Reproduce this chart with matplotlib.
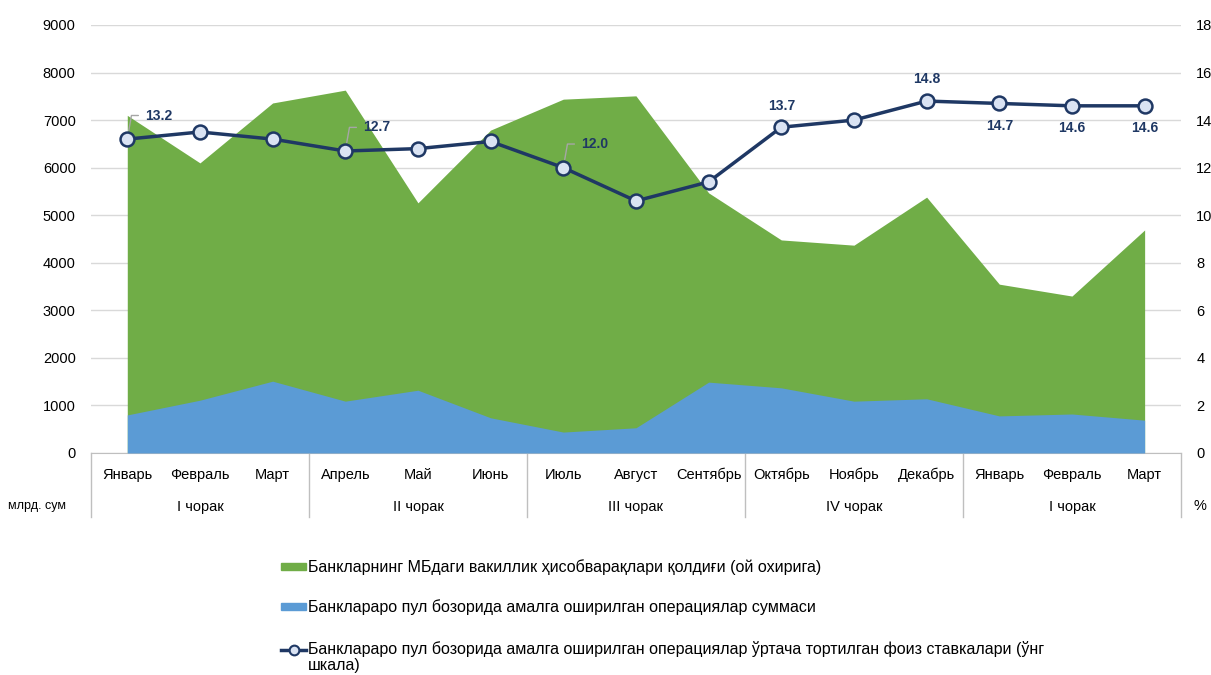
#!/usr/bin/env python3
# Interbank market: correspondent balances, operations volume and average rate

from matplotlib import pyplot as plt
from matplotlib import transforms
from matplotlib.patches import Rectangle
from matplotlib.lines import Line2D

################
#   DATA       #
################
months = ["Январь", "Февраль", "Март", "Апрель", "Май", "Июнь", "Июль", "Август",
          "Сентябрь", "Октябрь", "Ноябрь", "Декабрь", "Январь", "Февраль", "Март"]
quarters = ["I чорак", "II чорак", "III чорак", "IV чорак", "I чорак"]

balances = [7100, 6100, 7360, 7630, 5260, 6790, 7440, 7510, 5470,
            4480, 4370, 5380, 3550, 3300, 4690]
operations = [800, 1110, 1510, 1090, 1320, 740, 440, 530, 1490,
              1370, 1090, 1140, 780, 820, 690]
rates = [13.2, 13.5, 13.2, 12.7, 12.8, 13.1, 12.0, 10.6, 11.4,
         13.7, 14.0, 14.8, 14.7, 14.6, 14.6]

legend_labels = ["Банкларнинг МБдаги вакиллик ҳисобварақлари қолдиғи (ой охирига)",
                 "Банклараро пул бозорида амалга оширилган операциялар суммаси",
                 "Банклараро пул бозорида амалга оширилган операциялар ўртача тортилган фоиз ставкалари (ўнг\nшкала)"]

# which points get a label, and where it sits (offset in points, leader line or not)
label_spots = {0: (13, 17, True), 3: (13, 17, True), 6: (13, 17, True),
               9: (0, 15, False), 11: (0, 16, False),
               12: (0, -16, False), 13: (0, -16, False), 14: (0, -16, False)}

GREEN = "#70AD47"
BLUE = "#5B9BD5"
NAVY = "#1F3864"
GRID = "#D9D9D9"

plt.rcParams["font.family"] = ["Liberation Sans Narrow", "Liberation Sans", "DejaVu Sans"]

fig = plt.figure(figsize=(12.11, 6.75), dpi=100)
ax = fig.add_axes([0.0751, 0.3289, 0.9001, 0.6341])
ax2 = ax.twinx()

x = list(range(len(months)))

# areas (not stacked, operations drawn in front)
ax.fill_between(x, 0, balances, color=GREEN, linewidth=0, zorder=2)
ax.fill_between(x, 0, operations, color=BLUE, linewidth=0, zorder=3)

ax.set_xlim(-0.5, len(months) - 0.5)
ax.set_ylim(0, 9000)
ax.set_yticks(range(0, 9001, 1000))
ax.yaxis.grid(True, color=GRID, linewidth=1)
ax.set_axisbelow(True)
ax.set_xticks([])
ax.tick_params(axis="y", length=0, labelsize=10.5, pad=11)

ax2.set_ylim(0, 18)
ax2.set_yticks(range(0, 19, 2))
ax2.tick_params(axis="y", length=0, labelsize=10.5, pad=11)

for a in (ax, ax2):
    for side in ("top", "left", "right"):
        a.spines[side].set_visible(False)
    a.spines["bottom"].set_color("#BFBFBF")
ax2.spines["bottom"].set_visible(False)

# rate line on right scale
ax2.plot(x, rates, color=NAVY, linewidth=2.5, marker="o", markersize=10,
         markerfacecolor="#DAE3F3", markeredgecolor=NAVY, markeredgewidth=1.8, zorder=5)

for i, (dx, dy, leader) in label_spots.items():
    if leader:
        ax2.annotate("{:.1f}".format(rates[i]), xy=(i, rates[i]), xytext=(dx, dy),
                     textcoords="offset points", ha="left", va="center",
                     fontsize=10, fontweight="bold", color=NAVY,
                     arrowprops=dict(arrowstyle="-", color="#A6A6A6", lw=1,
                                     connectionstyle="angle,angleA=0,angleB=80",
                                     relpos=(0, 0.5), shrinkA=3, shrinkB=6))
    else:
        ax2.annotate("{:.1f}".format(rates[i]), xy=(i, rates[i]), xytext=(dx, dy),
                     textcoords="offset points", ha="center", va="center",
                     fontsize=10, fontweight="bold", color=NAVY)

# category axis with months and quarters
trans = transforms.blended_transform_factory(ax.transData, ax.transAxes)
for i, m in enumerate(months):
    ax.text(i, -0.051, m, transform=trans, ha="center", va="center", fontsize=10.5)
for q, name in enumerate(quarters):
    ax.text(q * 3 + 1, -0.126, name, transform=trans, ha="center", va="center", fontsize=10.5)
for b in range(len(quarters) + 1):
    ax.add_line(Line2D([b * 3 - 0.5, b * 3 - 0.5], [0, -0.15], transform=trans,
                       color="#BFBFBF", linewidth=1, clip_on=False))

fig.text(37 / 1211, 0.25, "млрд. сум", ha="center", va="center", fontsize=9)
fig.text(0.991, 0.25, "%", ha="center", va="center", fontsize=10.5)

# legend, drawn by hand in figure pixels
W, H = 1211.0, 675.0
fig.add_artist(Rectangle((281 / W, 1 - 570 / H), 25 / W, 7 / H, color=GREEN,
                         transform=fig.transFigure))
fig.add_artist(Rectangle((281 / W, 1 - 610 / H), 25 / W, 7 / H, color=BLUE,
                         transform=fig.transFigure))
fig.add_artist(Line2D([281 / W, 306 / W], [1 - 650 / H, 1 - 650 / H], color=NAVY,
                      linewidth=2.5, transform=fig.transFigure))
fig.add_artist(Line2D([293.5 / W], [1 - 650 / H], marker="o", markersize=7,
                      markerfacecolor="#DAE3F3", markeredgecolor=NAVY,
                      markeredgewidth=1.5, transform=fig.transFigure))
fig.text(308 / W, 1 - 567 / H, legend_labels[0], ha="left", va="center", fontsize=11.5)
fig.text(308 / W, 1 - 607 / H, legend_labels[1], ha="left", va="center", fontsize=11.5)
fig.text(308 / W, 1 - 641 / H, legend_labels[2], ha="left", va="top", fontsize=11.5,
         linespacing=1.05)

fig.savefig("out.png", dpi=100)
